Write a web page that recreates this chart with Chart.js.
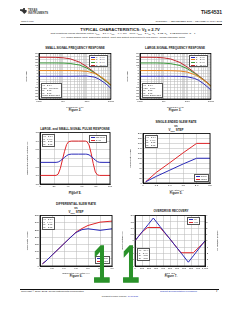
<!DOCTYPE html>
<html>
<head>
<meta charset="utf-8">
<title>THS4531 typical characteristics, VS = 2.7 V</title>
<script src="https://cdn.jsdelivr.net/npm/chart.js@4.4.1/dist/chart.umd.min.js"></script>
<style>
  body { margin: 0; width: 240px; height: 310px; position: relative; overflow: hidden; background: #fff;
         font-family: "Liberation Sans", Arial, sans-serif; color: #1a1a1a; }
  .t { position: absolute; white-space: nowrap; line-height: 1; }
  .c { transform: translateX(-50%); text-align: center; }
  .b { font-weight: bold; }
  .rule { position: absolute; height: 0.6px; background: #111; }
  canvas { position: absolute; }
  .note { position: absolute; background: #fff; border: 0.4px solid #555; font-size: 2.1px; line-height: 2.5px;
          padding: 0.4px 0.8px; white-space: nowrap; z-index: 2; }
  .leg { position: absolute; background: #fff; border: 0.4px solid #555; font-size: 2.1px; line-height: 2.6px;
         padding: 0.3px 0.8px; white-space: nowrap; z-index: 2; }
  .sw { display: inline-block; width: 4px; height: 0; border-top: 1px solid; vertical-align: middle; margin-right: 1px; }
  .big1 { position: absolute; font: 52px "Liberation Sans", Arial, sans-serif; color: #2a922a;
          -webkit-text-stroke: 1.6px #2a922a; line-height: 1; z-index: 5;
          transform: scaleX(0.65); transform-origin: left top; }
  sub { font-size: 70%; vertical-align: -0.3em; line-height: 0; }
  .blue { color: #2233bb; }
</style>
</head>
<body>

<!-- page header -->
<div style="position:absolute;left:20px;top:8px;width:7px;height:6px;background:#333;
            clip-path:polygon(0 20%,45% 20%,45% 0,70% 0,70% 30%,100% 40%,90% 70%,60% 100%,45% 80%,30% 60%,0 45%)"></div>
<div class="t b" style="left:28px;top:8.6px;font-size:2.8px;line-height:3px;color:#444">TEXAS<br>INSTRUMENTS</div>
<div class="t b" style="right:18px;top:9.6px;font-size:5px">THS4531</div>
<div class="t" style="left:21px;top:21.4px;font-size:2.5px">www.ti.com</div>
<div class="t" style="right:18px;top:21.4px;font-size:2.5px">SLOS823A – SEPTEMBER 2011 – REVISED MARCH 2012</div>
<div class="rule" style="left:20px;top:24.4px;width:202px"></div>

<div class="t b c" style="left:120px;top:27.8px;font-size:4.2px">TYPICAL CHARACTERISTICS: V<sub>S</sub> = 2.7V</div>
<div class="t c" style="left:123px;top:33.4px;font-size:2.5px">Test conditions unless otherwise noted: V<sub>CC+</sub> = 2.7 V, V<sub>CC–</sub> = 0 V, CM = open, V<sub>OUT</sub> = 2 V<sub>PP</sub>, R<sub>F</sub> = 2 kΩ, R<sub>L</sub> = 2 kΩ Differential, G = 1</div>
<div class="t c" style="left:123px;top:36.9px;font-size:2.5px">V/V, Single-Ended Input, Differential Output, Input and Output Referenced to mid-supply, unless otherwise noted</div>

<!-- figure titles and captions -->
<div class="t b c" style="left:75px;top:46.5px;font-size:3px">SMALL-SIGNAL FREQUENCY RESPONSE</div>
<div class="t b c" style="left:175px;top:46.5px;font-size:3px">LARGE-SIGNAL FREQUENCY RESPONSE</div>
<div class="t b c" style="left:75px;top:108.5px;font-size:3px">Figure 2.</div>
<div class="t b c" style="left:175px;top:108.5px;font-size:3px">Figure 3.</div>

<div class="t b c" style="left:75px;top:128px;font-size:3px">LARGE- and SMALL-SIGNAL PULSE RESPONSE</div>
<div class="t b c" style="left:176px;top:119.5px;font-size:3px;line-height:4px">SINGLE-ENDED SLEW RATE<br>vs<br>V<sub>OUT</sub> STEP</div>
<div class="t b c" style="left:75px;top:191.5px;font-size:3px">Figure 4.</div>
<div class="t b c" style="left:176px;top:191.5px;font-size:3px">Figure 5.</div>

<div class="t b c" style="left:76px;top:201.5px;font-size:3px;line-height:4px">DIFFERENTIAL SLEW RATE<br>vs<br>V<sub>OUT</sub> STEP</div>
<div class="t b c" style="left:171px;top:209.5px;font-size:3px">OVERDRIVE RECOVERY</div>
<div class="t b c" style="left:76px;top:274.5px;font-size:3px">Figure 6.</div>
<div class="t b c" style="left:171px;top:274.5px;font-size:3px">Figure 7.</div>

<!-- chart canvases -->
<canvas id="fig2" width="90" height="58" style="left:25px;top:51px"></canvas>
<canvas id="fig3" width="89" height="58" style="left:126px;top:51px"></canvas>
<canvas id="fig4" width="88" height="63" style="left:26px;top:130px"></canvas>
<canvas id="fig5" width="85" height="61" style="left:129px;top:131px"></canvas>
<canvas id="fig6" width="90" height="62" style="left:26px;top:213px"></canvas>
<canvas id="fig7" width="98" height="62" style="left:121px;top:213px"></canvas>

<!-- in-plot notes and legends -->
<div class="leg" style="left:89px;top:54.5px">
  <div><span class="sw" style="color:#2a2ab8"></span>G = 1 V/V</div>
  <div><span class="sw" style="color:#e8801a"></span>G = 2 V/V</div>
  <div><span class="sw" style="color:#3c9c3c"></span>G = 5 V/V</div>
  <div><span class="sw" style="color:#c0282d"></span>G = 10 V/V</div>
</div>
<div class="note" style="left:40.5px;top:83px">V<sub>S</sub> = 2.7 V<br>V<sub>OUT</sub> = 100 mV<sub>PP</sub><br>R<sub>F</sub> = 2 kΩ<br>R<sub>L</sub> = 2 kΩ<br>Single-Ended Input</div>

<div class="leg" style="left:189px;top:54.5px">
  <div><span class="sw" style="color:#2a2ab8"></span>G = 1 V/V</div>
  <div><span class="sw" style="color:#e8801a"></span>G = 2 V/V</div>
  <div><span class="sw" style="color:#3c9c3c"></span>G = 5 V/V</div>
  <div><span class="sw" style="color:#c0282d"></span>G = 10 V/V</div>
</div>
<div class="note" style="left:141.5px;top:83px">V<sub>S</sub> = 2.7 V<br>V<sub>OUT</sub> = 2 V<sub>PP</sub><br>R<sub>F</sub> = 2 kΩ<br>R<sub>L</sub> = 2 kΩ<br>Single-Ended Input</div>

<div class="note" style="left:41.5px;top:134px">V<sub>S</sub> = 2.7 V<br>G = 1 V/V<br>R<sub>F</sub> = 2 kΩ<br>R<sub>L</sub> = 2 kΩ</div>
<div class="leg" style="left:89px;top:135px">
  <div><span class="sw" style="color:#2a2ab8"></span>500 mV<sub>PP</sub></div>
  <div><span class="sw" style="color:#e0262a"></span>2 V<sub>PP</sub></div>
</div>

<div class="note" style="left:144.5px;top:135px">V<sub>S</sub> = 2.7 V<br>G = 1 V/V<br>R<sub>F</sub> = 2 kΩ<br>R<sub>L</sub> = 2 kΩ</div>
<div class="leg" style="left:194px;top:174px">
  <div><span class="sw" style="color:#2a2ab8"></span>Rising</div>
  <div><span class="sw" style="color:#e0262a"></span>Falling</div>
</div>

<div class="note" style="left:41.5px;top:217px">V<sub>S</sub> = 2.7 V<br>G = 1 V/V<br>R<sub>F</sub> = 2 kΩ<br>R<sub>L</sub> = 2 kΩ</div>
<div class="leg" style="left:95px;top:256px">
  <div><span class="sw" style="color:#2a2ab8"></span>Rising</div>
  <div><span class="sw" style="color:#e0262a"></span>Falling</div>
</div>

<div class="leg" style="left:187px;top:217px">
  <div><span class="sw" style="color:#2a2ab8"></span>V<sub>IN</sub></div>
  <div><span class="sw" style="color:#e0262a"></span>V<sub>OUT</sub></div>
</div>
<div class="note" style="left:137px;top:248px">V<sub>S</sub> = 2.7 V<br>G = 2 V/V<br>R<sub>F</sub> = 2 kΩ<br>R<sub>L</sub> = 2 kΩ</div>

<!-- green marks over the page -->
<div class="big1" style="left:91.7px;top:238px">1</div>
<div class="big1" style="left:120.7px;top:238px">1</div>

<!-- footer -->
<div class="rule" style="left:20px;top:288.6px;width:199px"></div>
<div class="t" style="left:21px;top:290.6px;font-size:2.5px">Copyright © 2011–2012, Texas Instruments Incorporated</div>
<div class="t blue" style="left:160px;top:290.6px;font-size:2.5px">Submit Documentation Feedback</div>
<div class="t b" style="left:216px;top:290.4px;font-size:2.8px">7</div>
<div class="t c" style="left:120px;top:295.6px;font-size:2.5px">Product Folder Link(s): <span class="blue">THS4531</span></div>

<script>
// ---- values ----

// Figures 2 and 3: frequency response, gain in dB
const freqHz = [1e5, 2e5, 5e5, 1e6, 2e6, 5e6, 1e7, 2e7, 3e7, 5e7, 7e7, 1e8];
const gainLabels = ['G = 1 V/V', 'G = 2 V/V', 'G = 5 V/V', 'G = 10 V/V'];
const ssG1  = [0, 0, 0, 0, 0, 0.1, 0.2, -0.8, -2.6, -6.3, -9.2, -12.8];
const ssG2  = [6, 6, 6, 6, 6, 5.8, 5.2, 3.2, 1.2, -2.5, -5.4, -8.9];
const ssG5  = [14, 14, 14, 13.9, 13.5, 11.8, 8.6, 3.8, 0.8, -3.4, -6.3, -9.6];
const ssG10 = [20, 20, 19.9, 19.5, 18.4, 14.8, 10, 4.3, 1, -3.2, -6.2, -9.4];
const lsG1  = [0, 0, 0, 0, 0, -0.1, -0.6, -2.2, -4.2, -8, -11, -14.5];
const lsG2  = [6, 6, 6, 6, 5.9, 5.5, 4.4, 1.8, -0.5, -4.3, -7.2, -10.6];
const lsG5  = [14, 14, 14, 13.8, 13.3, 11.3, 8, 3.2, 0.2, -4, -7, -10.4];
const lsG10 = [20, 20, 19.9, 19.4, 18.2, 14.5, 9.7, 4, 0.7, -3.6, -6.6, -10];
const freqTickText = { 100000: '100k', 1000000: '1M', 10000000: '10M', 100000000: '100M' };

// Figure 4: pulse response, differential output in V
const pulseTimeNs = [0, 10, 20, 23, 26, 29, 32, 35, 38, 41, 45, 55, 65, 67, 70, 73, 76, 79, 82, 85, 90, 100];
const pulseLarge  = [-1, -1, -1, -1, -0.92, -0.6, -0.1, 0.4, 0.8, 0.97, 1, 1, 1, 0.97, 0.78, 0.3, -0.3, -0.8, -0.97, -1, -1, -1];
const pulseSmall  = [-0.24, -0.24, -0.24, -0.24, -0.22, -0.15, -0.05, 0.05, 0.15, 0.22, 0.24, 0.24, 0.24, 0.235, 0.2, 0.11, 0, -0.11, -0.2, -0.235, -0.24, -0.24];

// Figure 5: single-ended slew rate (V/µs) vs output step (V)
const seStepV   = [0.1, 0.5, 1, 1.5, 2, 2.5];
const seRising  = [5, 27, 52, 77, 100, 100];
const seFalling = [5, 43, 82, 122, 160, 160];

// Figure 6: differential slew rate (V/µs) vs output step (V)
const diffStepV   = [0.1, 0.25, 0.5, 0.75, 1, 1.25, 1.5, 1.75, 2, 2.5, 3];
const diffRising  = [15, 35, 75, 115, 155, 195, 232, 252, 258, 247, 258];
const diffFalling = [15, 35, 75, 115, 155, 195, 235, 260, 281, 304, 311];

// Figure 7: overdrive recovery
const vinTimeNs  = [0, 100, 190, 262, 357, 500, 667, 762, 833, 1000];
const vin        = [0, 0.69, 1.3, 1.8, 1.13, 0.13, -1.03, -1.7, -1.2, 0];
const voutTimeNs = [0, 100, 180, 357, 500, 655, 833, 1000];
const vout       = [0, 1.38, 2.1, 2.1, 0.27, -1.9, -1.9, -0.1];

// ---- chart setup ----
const BLUE = '#2a2ab8', ORANGE = '#e8801a', GREEN = '#3c9c3c', DARKRED = '#c0282d', RED = '#e0262a';

Chart.defaults.font.family = '"Liberation Sans", Arial, sans-serif';
Chart.defaults.font.size = 2.5;
Chart.defaults.color = '#222';
Chart.defaults.animation = false;
Chart.defaults.responsive = false;
Chart.defaults.plugins.legend.display = false;
Chart.defaults.plugins.tooltip.enabled = false;
Chart.defaults.elements.point.radius = 0;
Chart.defaults.elements.line.borderWidth = 1;

const GRID = { color: '#b4b4b4', lineWidth: 0.5, drawTicks: false };
const BORDER = { color: '#000', width: 0.8 };

// black box round the plot area, as in the datasheet
const frame = {
  id: 'frame',
  afterDraw(chart) {
    const a = chart.chartArea, ctx = chart.ctx;
    ctx.save();
    ctx.strokeStyle = '#000';
    ctx.lineWidth = 0.8;
    ctx.strokeRect(a.left, a.top, a.width, a.height);
    ctx.restore();
  }
};

function yAxis(title, min, max, step, position) {
  return {
    position: position || 'left', min: min, max: max,
    grid: position === 'right' ? { drawOnChartArea: false, drawTicks: false } : GRID,
    border: BORDER,
    ticks: { stepSize: step, padding: 1, autoSkip: false },
    title: { display: true, text: title, padding: 0 },
    afterFit: s => { s.width = 14; }
  };
}

function xAxis(title, min, max, step) {
  return {
    type: 'linear', min: min, max: max,
    grid: GRID, border: BORDER,
    ticks: { stepSize: step, padding: 1, autoSkip: false, maxRotation: 0 },
    title: { display: true, text: title, padding: 0 },
    afterFit: s => { s.height = 9; }
  };
}

function freqAxis() {
  return {
    type: 'logarithmic', min: 1e5, max: 1e8,
    grid: GRID, border: BORDER,
    ticks: { padding: 1, autoSkip: false, maxRotation: 0, callback: v => freqTickText[v] || '' },
    title: { display: true, text: 'Frequency (Hz)', padding: 0 },
    afterFit: s => { s.height = 10; }
  };
}

function points(xs, ys) {
  return xs.map((x, i) => ({ x: x, y: ys[i] }));
}

function line(label, xs, ys, color, axisId) {
  const ds = { label: label, data: points(xs, ys), borderColor: color, backgroundColor: color };
  if (axisId) ds.yAxisID = axisId;
  return ds;
}

function makeChart(id, datasets, scales, padRight) {
  return new Chart(document.getElementById(id), {
    type: 'line',
    data: { datasets: datasets },
    options: {
      devicePixelRatio: 1,
      layout: { padding: { top: 2, right: padRight, left: 0, bottom: 0 } },
      scales: scales
    },
    plugins: [frame]
  });
}

// Figure 2
makeChart('fig2', [
  line(gainLabels[0], freqHz, ssG1, BLUE),
  line(gainLabels[1], freqHz, ssG2, ORANGE),
  line(gainLabels[2], freqHz, ssG5, GREEN),
  line(gainLabels[3], freqHz, ssG10, DARKRED)
], { x: freqAxis(), y: yAxis('Gain (dB)', -24, 24, 3) }, 4);

// Figure 3
makeChart('fig3', [
  line(gainLabels[0], freqHz, lsG1, BLUE),
  line(gainLabels[1], freqHz, lsG2, ORANGE),
  line(gainLabels[2], freqHz, lsG5, GREEN),
  line(gainLabels[3], freqHz, lsG10, DARKRED)
], { x: freqAxis(), y: yAxis('Gain (dB)', -24, 24, 3) }, 4);

// Figure 4
makeChart('fig4', [
  line('500 mVpp', pulseTimeNs, pulseSmall, BLUE),
  line('2 Vpp', pulseTimeNs, pulseLarge, RED)
], { x: xAxis('Time (ns)', 0, 100, 20), y: yAxis('Differential Output Voltage (V)', -1.5, 1.5, 0.5) }, 4);

// Figure 5
makeChart('fig5', [
  line('Rising', seStepV, seRising, BLUE),
  line('Falling', seStepV, seFalling, RED)
], { x: xAxis('V\u2092\u1d64\u209c Step (V)', 0, 2.5, 0.5), y: yAxis('Slew Rate (V/\u00b5s)', 0, 200, 20) }, 4);

// Figure 6
makeChart('fig6', [
  line('Rising', diffStepV, diffRising, BLUE),
  line('Falling', diffStepV, diffFalling, RED)
], { x: xAxis('Differential V\u2092\u1d64\u209c Step (V)', 0, 3, 0.5), y: yAxis('Slew Rate (V/\u00b5s)', 0, 350, 50) }, 4);

// Figure 7
makeChart('fig7', [
  line('VIN', vinTimeNs, vin, BLUE, 'y'),
  line('VOUT', voutTimeNs, vout, RED, 'y2')
], {
  x: xAxis('Time (ns)', 0, 1000, 100),
  y: yAxis('Input Voltage (V)', -2, 2, 0.5),
  y2: yAxis('Output Voltage (V)', -4, 4, 1, 'right')
}, 0);
</script>
</body>
</html>
